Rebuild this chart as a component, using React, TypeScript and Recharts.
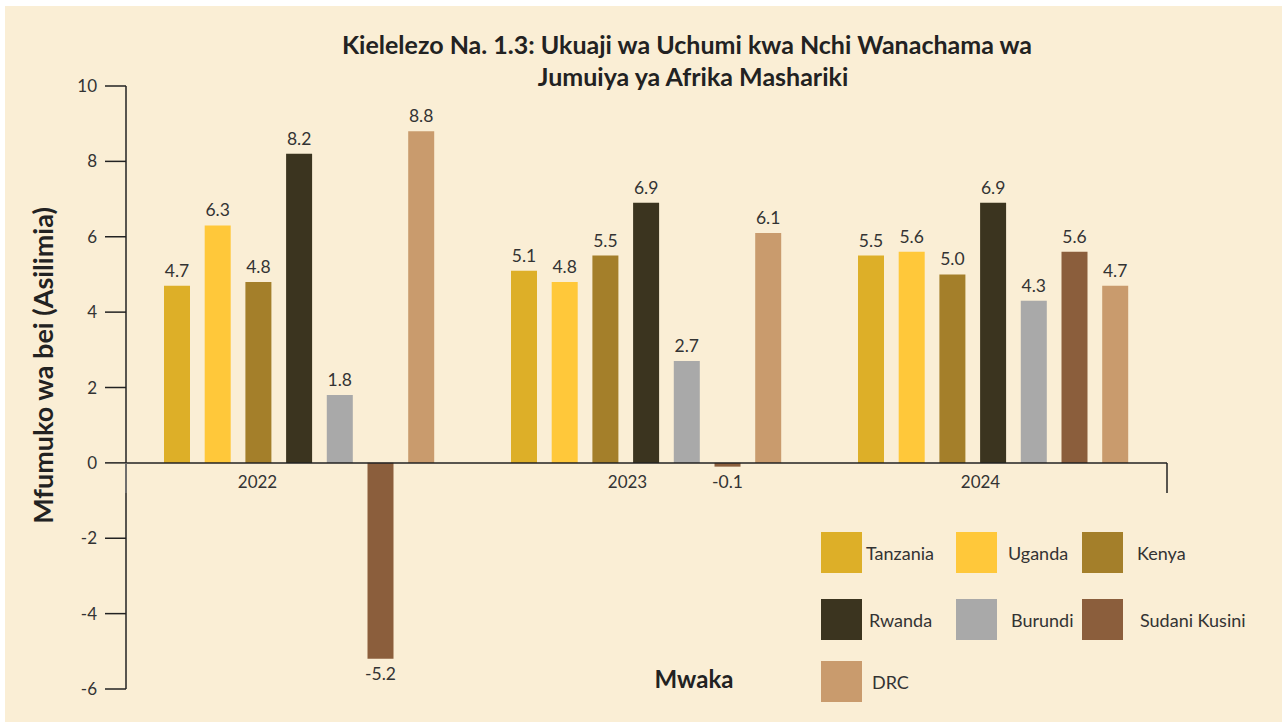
import React from 'react';
import { BarChart, Bar, XAxis, YAxis, LabelList, ReferenceLine } from 'recharts';

const CATEGORIES = ['2022', '2023', '2024'];
const TANZANIA = [4.7, 5.1, 5.5];
const UGANDA = [6.3, 4.8, 5.6];
const KENYA = [4.8, 5.5, 5.0];
const RWANDA = [8.2, 6.9, 6.9];
const BURUNDI = [1.8, 2.7, 4.3];
const SUDANI_KUSINI = [-5.2, -0.1, 5.6];
const DRC = [8.8, 6.1, 4.7];
const Y_TICKS = [-6, -4, -2, 0, 2, 4, 6, 8, 10];

const SERIES = [
  { key: 'Tanzania', values: TANZANIA, color: '#DDAF28' },
  { key: 'Uganda', values: UGANDA, color: '#FFC83A' },
  { key: 'Kenya', values: KENYA, color: '#A47F2A' },
  { key: 'Rwanda', values: RWANDA, color: '#3B341F' },
  { key: 'Burundi', values: BURUNDI, color: '#A9A9A9' },
  { key: 'Sudani Kusini', values: SUDANI_KUSINI, color: '#8B5E3C' },
  { key: 'DRC', values: DRC, color: '#C99B6D' },
];

const data = CATEGORIES.map((year, i) => {
  const row: Record<string, string | number> = { year };
  SERIES.forEach((s) => (row[s.key] = s.values[i]));
  return row;
});

// layout
const W = 1282;
const H = 722;
const PLOT_LEFT = 126;
const PLOT_RIGHT = 1167;
const PLOT_TOP = 86;
const PLOT_BOTTOM = 689;
const X_AXIS_H = 20;
const Y_MIN = -6;
const Y_MAX = 10;
const ZERO_Y = PLOT_TOP + ((PLOT_BOTTOM - PLOT_TOP) * Y_MAX) / (Y_MAX - Y_MIN);
const BAND = (PLOT_RIGHT - PLOT_LEFT) / CATEGORIES.length;
const TICK_SHIFT = [-42, -19, -13];

const FONT = 'Lato, "Noto Sans", sans-serif';
const TEXT = '#333';

function YearTick(props: any) {
  const { x, index, payload } = props;
  const last = CATEGORIES.length - 1;
  return (
    <g>
      {index === 0 && (
        <line x1={x - BAND / 2} x2={x - BAND / 2} y1={ZERO_Y} y2={ZERO_Y + 30} stroke="#777" strokeWidth={1.5} />
      )}
      {index === last && (
        <line x1={x + BAND / 2} x2={x + BAND / 2} y1={ZERO_Y} y2={ZERO_Y + 30} stroke="#222" strokeWidth={1.5} />
      )}
      <text x={x + TICK_SHIFT[index]} y={ZERO_Y + 25} textAnchor="middle" fontSize={17} fill={TEXT} fontFamily={FONT}>
        {payload.value}
      </text>
    </g>
  );
}

const LEGEND_COLS = [0, 135, 261];
const LEGEND_TEXT_GAP = [4, 11, 14];
const LEGEND_ROWS = [0, 67, 129];

function LegendBox() {
  return (
    <div style={{ position: 'absolute', left: 821, top: 532, width: 460, height: 175, fontFamily: FONT }}>
      {SERIES.map((s, i) => {
        const col = i % 3;
        const row = Math.floor(i / 3);
        return (
          <div
            key={s.key}
            style={{
              position: 'absolute',
              left: LEGEND_COLS[col],
              top: LEGEND_ROWS[row],
              display: 'flex',
              alignItems: 'center',
              height: 41,
              whiteSpace: 'nowrap',
            }}
          >
            <div style={{ width: 41, height: 41, background: s.color }} />
            <span style={{ marginLeft: LEGEND_TEXT_GAP[col] + (row === 2 ? 6 : row === 1 ? 3 : 0), fontSize: 18, color: TEXT }}>
              {s.key}
            </span>
          </div>
        );
      })}
    </div>
  );
}

export default function App() {
  return (
    <div style={{ position: 'absolute', left: 0, top: 0, width: W, height: H, background: '#fff', overflow: 'hidden' }}>
      <div style={{ position: 'absolute', left: 5, top: 6, right: 0, bottom: 0, background: '#FAEED5' }} />
      <div
        style={{
          position: 'absolute',
          left: 287,
          width: 800,
          top: 28,
          textAlign: 'center',
          fontFamily: FONT,
          fontWeight: 700,
          fontSize: 25,
          lineHeight: '32px',
          color: '#222',
        }}
      >
        Kielelezo Na. 1.3: Ukuaji wa Uchumi kwa Nchi Wanachama wa
        <br />
        <span style={{ marginLeft: 12 }}>Jumuiya ya Afrika Mashariki</span>
      </div>
      <div style={{ position: 'absolute', left: 0, top: 0 }}>
        <BarChart
          width={W}
          height={H}
          data={data}
          margin={{ top: PLOT_TOP, right: W - PLOT_RIGHT, bottom: H - PLOT_BOTTOM - X_AXIS_H, left: 0 }}
          barSize={26}
          barGap={14.7}
        >
          <XAxis dataKey="year" height={X_AXIS_H} axisLine={false} tickLine={false} tick={<YearTick />} interval={0} />
          <YAxis
            width={PLOT_LEFT}
            domain={[Y_MIN, Y_MAX]}
            ticks={Y_TICKS}
            interval={0}
            tickSize={21}
            tickMargin={8}
            axisLine={{ stroke: '#222', strokeWidth: 1.5 }}
            tickLine={{ stroke: '#222', strokeWidth: 1.5 }}
            tick={{ fontSize: 17, fill: TEXT, fontFamily: FONT }}
            label={{
              value: 'Mfumuko wa bei (Asilimia)',
              angle: -90,
              position: 'insideLeft',
              offset: 0,
              style: { fontSize: 27, fontWeight: 700, fill: '#222', fontFamily: FONT, textAnchor: 'middle' },
              dx: 43,
              dy: -22,
            }}
          />
          {SERIES.map((s) => (
            <Bar key={s.key} dataKey={s.key} fill={s.color} isAnimationActive={false}>
              <LabelList
                dataKey={s.key}
                position="top"
                offset={9}
                formatter={(v: any) => Number(v).toFixed(1)}
                style={{ fontSize: 17.5, fill: TEXT, fontFamily: FONT }}
              />
            </Bar>
          ))}
          <ReferenceLine y={0} stroke="#222" strokeWidth={1.5} />
        </BarChart>
      </div>
      <LegendBox />
      <div
        style={{
          position: 'absolute',
          left: 594,
          width: 200,
          top: 664,
          textAlign: 'center',
          fontFamily: FONT,
          fontWeight: 700,
          fontSize: 24,
          color: '#222',
        }}
      >
        Mwaka
      </div>
    </div>
  );
}
